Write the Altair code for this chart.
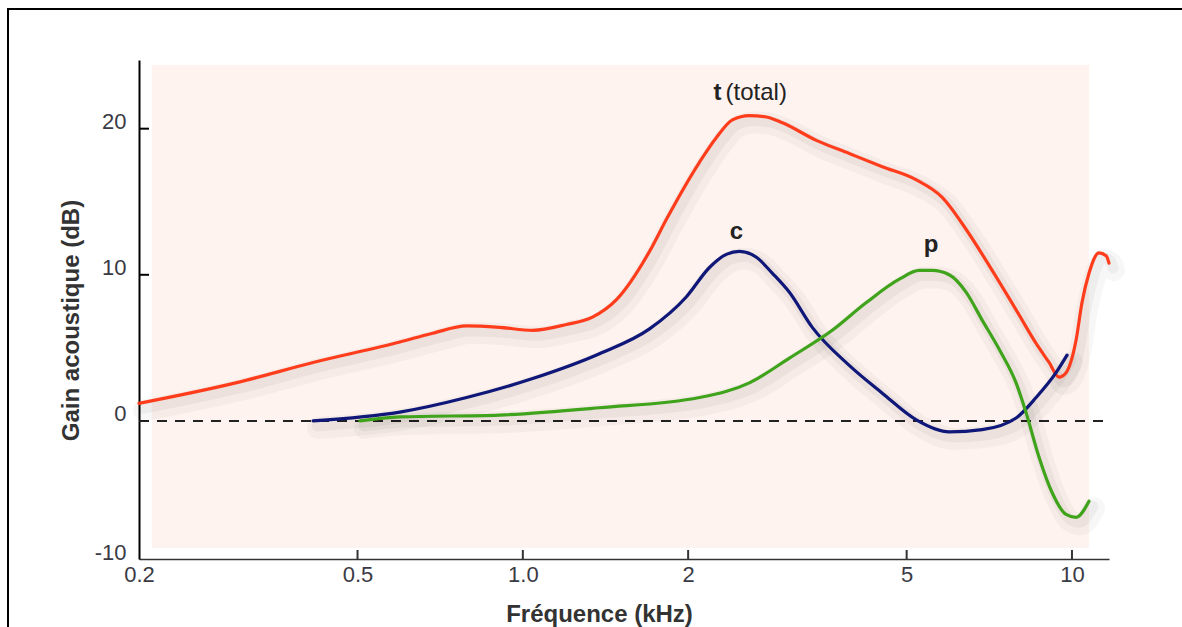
import altair as alt
import pandas as pd

# --- data (frequency in kHz, gain in dB) ---
t_freq = [0.200, 0.300, 0.415, 0.597, 0.685, 0.790, 0.907, 1.042, 1.201, 1.339, 1.481,
          1.701, 1.826, 2.097, 2.252, 2.408, 2.586, 2.777, 2.970, 3.424, 3.930, 4.514,
          5.206, 5.804, 6.418, 7.156, 7.912, 8.604, 9.086, 9.474, 9.754, 10.17, 10.43,
          10.74, 11.20, 11.54, 11.68]
t_gain = [1.2, 2.6, 4.0, 5.4, 6.0, 6.5, 6.4, 6.2, 6.6, 7.1, 8.3,
          11.6, 13.8, 17.7, 19.4, 20.6, 20.9, 20.8, 20.4, 19.2, 18.3, 17.4,
          16.5, 15.3, 13.1, 10.3, 7.6, 5.3, 4.0, 3.0, 3.3, 5.5, 8.1,
          10.1, 11.5, 11.3, 10.8]

c_freq = [0.415, 0.597, 0.790, 1.042, 1.379, 1.701, 1.986, 2.187, 2.348, 2.480, 2.663,
          2.848, 3.058, 3.366, 3.930, 4.514, 5.206, 5.976, 6.862, 7.912, 8.604, 9.354, 9.796]
c_gain = [0.0, 0.6, 1.6, 2.9, 4.6, 6.3, 8.5, 10.5, 11.4, 11.6, 11.2,
          10.1, 8.8, 6.4, 3.8, 1.9, 0.07, -0.75, -0.6, 0.2, 1.6, 3.3, 4.5]

p_freq = [0.505, 0.597, 0.907, 1.379, 2.097, 2.586, 3.058, 3.660, 4.222, 4.848, 5.272,
          5.566, 5.976, 6.418, 6.862, 7.370, 7.912, 8.252, 8.714, 9.200, 9.754, 10.17, 10.74]
p_gain = [0.0, 0.27, 0.4, 0.9, 1.6, 2.6, 4.3, 6.2, 8.1, 9.7, 10.3,
          10.3, 10.0, 8.8, 6.9, 4.9, 2.6, 0.55, -2.5, -4.9, -6.4, -6.6, -5.5]

series_names = ["t", "c", "p"]
series_colors = ["#ff3d1c", "#0f1878", "#3fa31c"]

x_ticks = [0.2, 0.5, 1, 2, 5, 10]
y_ticks = [-9.45, 0, 10, 20]

labels = ["t", "(total)", "c", "p"]
label_freq = [2.262, 2.34, 2.449, 5.54]
label_gain = [21.97, 21.97, 12.46, 11.57]
label_weight = ["bold", "normal", "bold", "bold"]

# --- build tables ---
rows = []
for name, fx, gy in [("t", t_freq, t_gain), ("c", c_freq, c_gain), ("p", p_freq, p_gain)]:
    for f, g in zip(fx, gy):
        rows.append({"series": name, "freq": f, "gain": g})
curves = pd.DataFrame(rows)
ann = pd.DataFrame({"label": labels, "freq": label_freq, "gain": label_gain,
                    "weight": label_weight})

FONT = "Liberation Sans"
xscale = alt.Scale(type="log", domain=[0.2, 11.68], nice=False)
yscale = alt.Scale(domain=[-9.45, 24.7], nice=False, zero=False)
cscale = alt.Scale(domain=series_names, range=series_colors)

xaxis = alt.Axis(
    values=x_ticks, ticks=False, grid=False, domainColor="#333333", domainWidth=1.5,
    labelFont=FONT, labelFontSize=22, labelColor="#3a3a44", labelPadding=5,
    labelFlush=False, labelOverlap=False,
    labelExpr="datum.value == 1 ? '1.0' : format(datum.value, '~g')",
    title="Fréquence (kHz)", titleFont=FONT, titleFontSize=24, titleFontWeight="bold",
    titleColor="#333333", titleX=460, titleY=55, titleAlign="center", titleBaseline="middle")
yaxis = alt.Axis(
    values=y_ticks, ticks=False, grid=False, domainColor="#000000", domainWidth=2,
    labelFont=FONT, labelFontSize=22, labelColor="#3a3a44", labelPadding=13, labelOffset=-7,
    labelOverlap=False, labelFlush=False,
    labelExpr="datum.value < -9 ? '-10' : format(datum.value, 'd')",
    title="Gain acoustique (dB)", titleFont=FONT, titleFontSize=24, titleFontWeight="bold",
    titleColor="#333333", titleAngle=270, titleX=-68, titleY=260,
    titleAlign="center", titleBaseline="middle")

X = alt.X("freq:Q", scale=xscale, axis=xaxis)
Y = alt.Y("gain:Q", scale=yscale, axis=yaxis)

W, H = 970, 499

# background patterned panel (approximated by a soft fill)
bg = alt.Chart(pd.DataFrame({"freq": [0.211], "f2": [10.74], "gain": [-8.7], "g2": [24.37]})).mark_rect(
    color="#fef3ee"
).encode(x=X, x2="f2:Q", y=Y, y2="g2:Q")

zero = alt.Chart(pd.DataFrame({"gain": [0]})).mark_rule(
    color="#222222", strokeWidth=2, strokeDash=[10, 8]
).encode(y=Y, x=alt.value(0), x2=alt.value(W))

xt = alt.Chart(pd.DataFrame({"freq": x_ticks[1:]})).mark_rule(color="#333333", strokeWidth=2).encode(
    x=X, y=alt.value(H), y2=alt.value(H - 9))
yt = alt.Chart(pd.DataFrame({"gain": [10, 20]})).mark_rule(color="#000000", strokeWidth=2).encode(
    y=Y, x=alt.value(0), x2=alt.value(10))

shadow1 = alt.Chart(curves).mark_line(
    interpolate="monotone", strokeWidth=22, opacity=0.03, color="#000000", xOffset=5, yOffset=7,
    strokeCap="round"
).encode(x=X, y=Y, detail="series:N")
shadow2 = alt.Chart(curves).mark_line(
    interpolate="monotone", strokeWidth=11, opacity=0.04, color="#000000", xOffset=4, yOffset=5,
    strokeCap="round"
).encode(x=X, y=Y, detail="series:N")

lines = alt.Chart(curves).mark_line(interpolate="monotone", strokeWidth=3.2, strokeCap="round").encode(
    x=X, y=Y, color=alt.Color("series:N", scale=cscale, legend=None),
)

txt_bold = alt.Chart(ann[ann["weight"] == "bold"]).mark_text(
    font=FONT, fontSize=24, fontWeight="bold", color="#222222", baseline="alphabetic", align="center"
).encode(x=X, y=Y, text="label:N")
txt_norm = alt.Chart(ann[ann["weight"] == "normal"]).mark_text(
    font=FONT, fontSize=24, fontWeight="normal", color="#222222", baseline="alphabetic", align="left"
).encode(x=X, y=Y, text="label:N")

frame = alt.Chart(pd.DataFrame({"k": [0]})).mark_rect(
    fillOpacity=0, stroke="#000000", strokeWidth=2
).encode(x=alt.value(-131), x2=alt.value(1070), y=alt.value(-51), y2=alt.value(590))

chart = alt.layer(bg, zero, xt, yt, shadow1, shadow2, lines, txt_bold, txt_norm, frame).properties(
    width=W, height=H,
    padding={"left": 139, "top": 60, "right": 73, "bottom": 68},
    autosize=alt.AutoSizeParams(type="none"),
    background="#ffffff",
).configure_view(stroke="transparent")

chart.save("out.html", embed_options={"renderer": "svg", "actions": False})
